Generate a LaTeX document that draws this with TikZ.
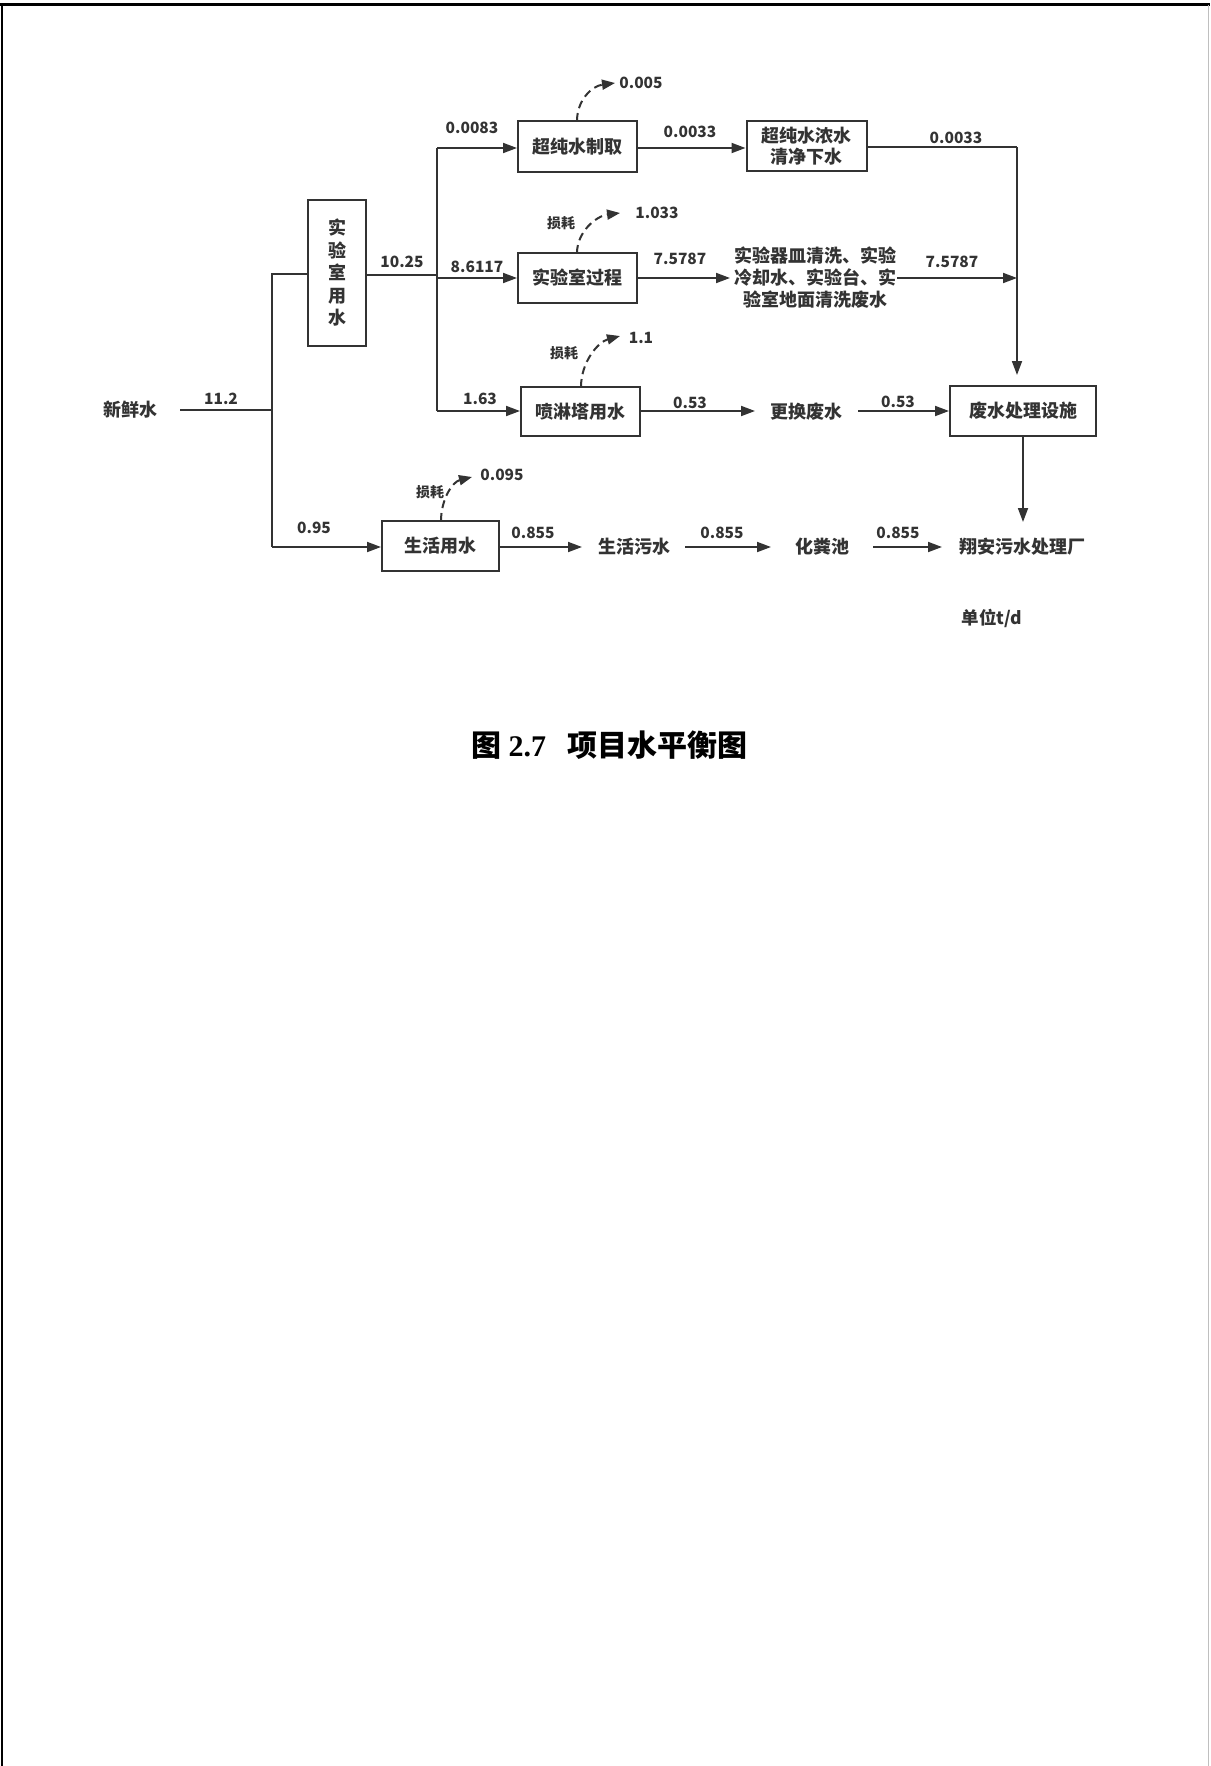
\documentclass[tikz,border=0pt]{standalone}
\usepackage{fontspec}
\newfontfamily\cjk{Noto Sans CJK SC}
\newfontfamily\tnr{Liberation Serif}
\usetikzlibrary{arrows.meta}
\definecolor{ink}{HTML}{333333}
\begin{document}
\begin{tikzpicture}[x=1pt,y=-1pt,
  box/.style={draw=ink, line width=2pt, fill=white, inner sep=0pt, font=\cjk\bfseries\fontsize{18}{21}\selectfont, text=ink, align=center},
  lbl/.style={inner sep=0pt, font=\cjk\bfseries\fontsize{18}{22}\selectfont, text=ink, align=center},
  num/.style={inner sep=0pt, font=\cjk\bfseries\fontsize{15.5}{18}\selectfont, text=ink},
  loss/.style={inner sep=0pt, font=\cjk\bfseries\fontsize{14}{16}\selectfont, text=ink},
  flow/.style={draw=ink, line width=1.8pt, -{Triangle[length=14pt,width=10pt]}},
  pipe/.style={draw=ink, line width=1.8pt},
  evap/.style={draw=ink, line width=2pt, dash pattern=on 8pt off 5pt, -{Triangle[length=13pt,width=10pt]}},
]
\useasboundingbox (0,0) rectangle (1210,1766);
\fill[white] (0,0) rectangle (1210,1766);
% page frame
\draw[line width=3pt, black] (0,5) -- (1210,5);
\draw[line width=2.5pt, black] (2,5) -- (2,1766);
\draw[line width=1.5pt, black!25] (1208.5,5) -- (1208.5,1766);

% nodes
\node[lbl] (fresh) at (130,410) {新鲜水};
\node[box, minimum width=58pt, minimum height=146pt, font=\cjk\bfseries\fontsize{18}{22.5}\selectfont] (lab) at (337,273) {实\\验\\室\\用\\水};
\node[box, minimum width=119pt, minimum height=51pt] (upw) at (577.5,146.5) {超纯水制取};
\node[box, minimum width=120pt, minimum height=50pt] (conc) at (806.5,146) {超纯水浓水\\清净下水};
\node[box, minimum width=119pt, minimum height=50pt] (proc) at (577.5,278) {实验室过程};
\node[lbl] (wash) at (815,278) {实验器皿清洗、实验\\冷却水、实验台、实\\验室地面清洗废水};
\node[box, minimum width=119pt, minimum height=49pt] (spray) at (580.5,411.5) {喷淋塔用水};
\node[lbl] (chg) at (806,412) {更换废水};
\node[box, minimum width=146pt, minimum height=50pt] (wwtf) at (1023,411) {废水处理设施};
\node[box, minimum width=117pt, minimum height=50pt] (dom) at (440.5,546) {生活用水};
\node[lbl] (sew) at (634,547) {生活污水};
\node[lbl] (sept) at (822,547) {化粪池};
\node[lbl] (plant) at (1022,547) {翔安污水处理厂};
\node[inner sep=0pt, font=\cjk\bfseries\fontsize{17.5}{20}\selectfont, text=ink] (unit) at (992,618) {单位t/d};

% junction coordinates
\coordinate (f0) at (180,410);
\coordinate (j0) at (272,410);
\coordinate (jl) at (272,274);
\coordinate (jd) at (272,547);
\coordinate (j1) at (437,275);
\coordinate (jt) at (437,148);
\coordinate (jm) at (437,278);
\coordinate (jb) at (437,411);
\coordinate (rc) at (1017,147);
\coordinate (rm) at (1017,278);
\coordinate (rb) at (1017,375);
\coordinate (wl) at (730,278);
\coordinate (wr) at (897,278);
\coordinate (sa) at (755,411);
\coordinate (cb) at (858,411);
\coordinate (dp) at (1023,522);
\coordinate (s1) at (582,547);
\coordinate (s2a) at (685,547);
\coordinate (s2b) at (771,547);
\coordinate (s3a) at (873,547);
\coordinate (s3b) at (942,547);

% main pipes
\draw[pipe] (f0) -- (j0);
\draw[pipe] (lab.west |- jl) -- (jl) -- (jd);
\draw[flow] (jd) -- (dom.west |- jd);
\draw[pipe] (lab.east |- j1) -- (j1);
\draw[pipe] (jt) -- (jb);
\draw[flow] (jt) -- (upw.west |- jt);
\draw[flow] (jm) -- (proc.west);
\draw[flow] (jb) -- (spray.west |- jb);
\draw[flow] (upw.east |- jt) -- (conc.west |- jt);
\draw[pipe] (conc.east |- rc) -- (rc);
\draw[flow] (rc) -- (rb);
\draw[flow] (proc.east) -- (wl);
\draw[flow] (wr) -- (rm);
\draw[flow] (spray.east |- sa) -- (sa);
\draw[flow] (cb) -- (wwtf.west |- cb);
\draw[flow] (wwtf.south) -- (dp);
\draw[flow] (dom.east |- s1) -- (s1);
\draw[flow] (s2a) -- (s2b);
\draw[flow] (s3a) -- (s3b);

% loss (evaporation) curves
\coordinate (e1) at (615,83);
\coordinate (e2) at (620,213);
\coordinate (e3) at (620,336);
\coordinate (e4) at (472,477);
\draw[evap] (577,121) .. controls (577,100) and (592,86) .. (e1);
\draw[evap] (577,253) .. controls (577,232) and (596,216) .. (e2);
\draw[evap] (581,387) .. controls (581,362) and (598,342) .. (e3);
\draw[evap] (441,521) .. controls (441,500) and (452,482) .. (e4);

% number labels
\node[num] (n112) at (221,399) {11.2};
\node[num] (n1025) at (402,262) {10.25};
\node[num] (n0083) at (472,128) {0.0083};
\node[num] (n86117) at (477,267) {8.6117};
\node[num] (n163) at (480,399) {1.63};
\node[num] (n095) at (314,528) {0.95};
\node[num] (n0005) at (641,83) {0.005};
\node[num] (n0033a) at (690,132) {0.0033};
\node[num] (n0033b) at (956,138) {0.0033};
\node[loss] (ls1) at (561,223) {损耗};
\node[num] (n1033) at (657,213) {1.033};
\node[num] (n7578a) at (680,259) {7.5787};
\node[num] (n7578b) at (952,262) {7.5787};
\node[loss] (ls2) at (564,353) {损耗};
\node[num] (n11) at (641,338) {1.1};
\node[num] (n053a) at (690,403) {0.53};
\node[num] (n053b) at (898,402) {0.53};
\node[loss] (ls3) at (430,492) {损耗};
\node[num] (n0095) at (502,475) {0.095};
\node[num] (n0855a) at (533,533) {0.855};
\node[num] (n0855b) at (722,533) {0.855};
\node[num] (n0855c) at (898,533) {0.855};

% caption
\node[inner sep=0pt, font=\fontsize{30}{34}\selectfont, text=black] (title) at (609,745) {{\cjk\bfseries 图}\hspace{0.25em}{\tnr\bfseries 2.7}\hspace{0.7em}{\cjk\bfseries 项目水平衡图}};
\end{tikzpicture}
\end{document}
